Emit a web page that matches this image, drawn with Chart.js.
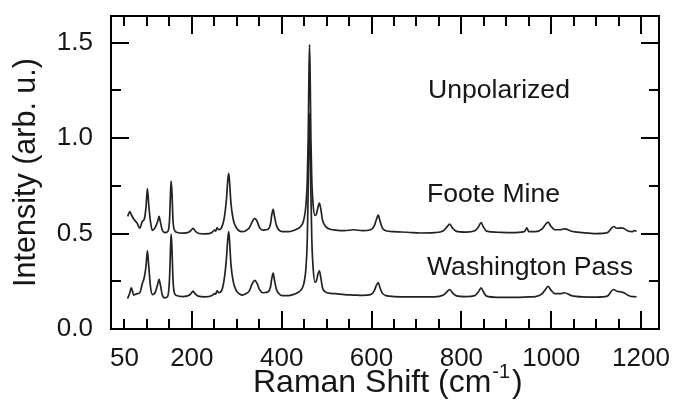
<!DOCTYPE html>
<html>
<head>
<meta charset="utf-8">
<script src="https://cdn.jsdelivr.net/npm/chart.js@4.4.1/dist/chart.umd.min.js"></script>
<style>
  html, body { margin: 0; padding: 0; background: #ffffff; }
  #wrap { width: 673px; height: 408px; }
</style>
</head>
<body>
<div id="wrap"><canvas id="c" width="673" height="408"></canvas></div>
<script>
// Raman shift (cm^-1) sampling points
const ramanShift = [57,62,65,71,78,84,90,94,98,101,104,108,112,118,124,127,130,134,140,146,150,153,154,156,158,161,166,180,195,200,203,207,214,230,245,250,253,256,260,266,272,277,280,282,284,287,292,298,305,312,320,328,334,340,345,351,358,365,370,375,378,381,384,388,394,402,415,425,435,443,449,454,457,459,460.5,462,463.5,465,467,470,474,477,481,484,487,491,497,505,520,540,560,580,598,606,611,615,619,624,632,650,680,710,740,760,768,774,780,788,810,830,838,844,849,856,880,910,940,946,950,965,980,988,993,999,1008,1020,1030,1045,1070,1100,1125,1133,1139,1146,1155,1162,1170,1180,1185,1190];

// Foote Mine intensities (arb. u.)
const footeMine = [0.59,0.615,0.60,0.575,0.555,0.528,0.565,0.575,0.64,0.735,0.65,0.56,0.517,0.53,0.565,0.59,0.56,0.52,0.505,0.51,0.56,0.74,0.775,0.70,0.57,0.52,0.507,0.502,0.51,0.522,0.528,0.515,0.502,0.498,0.506,0.518,0.513,0.53,0.52,0.53,0.58,0.68,0.78,0.815,0.77,0.66,0.575,0.535,0.515,0.51,0.515,0.53,0.56,0.58,0.565,0.53,0.518,0.52,0.523,0.55,0.60,0.627,0.59,0.545,0.518,0.51,0.51,0.515,0.525,0.54,0.57,0.65,0.78,1.0,1.3,1.49,1.3,1.0,0.78,0.65,0.595,0.60,0.64,0.66,0.63,0.57,0.54,0.525,0.518,0.515,0.52,0.515,0.52,0.54,0.575,0.597,0.565,0.53,0.515,0.51,0.507,0.503,0.505,0.515,0.535,0.55,0.53,0.513,0.508,0.515,0.535,0.558,0.535,0.513,0.507,0.505,0.51,0.53,0.51,0.51,0.525,0.55,0.56,0.54,0.52,0.52,0.525,0.512,0.505,0.50,0.505,0.525,0.537,0.528,0.53,0.527,0.515,0.51,0.515,0.512];

// Washington Pass intensities (arb. u.)
const washingtonPass = [0.16,0.19,0.215,0.178,0.185,0.19,0.24,0.27,0.33,0.41,0.33,0.22,0.18,0.19,0.235,0.26,0.23,0.18,0.163,0.17,0.25,0.45,0.497,0.40,0.26,0.19,0.175,0.17,0.178,0.192,0.198,0.185,0.172,0.168,0.175,0.185,0.183,0.20,0.19,0.20,0.26,0.37,0.47,0.51,0.46,0.34,0.25,0.205,0.185,0.178,0.185,0.20,0.235,0.255,0.24,0.205,0.19,0.192,0.195,0.22,0.265,0.293,0.255,0.21,0.185,0.175,0.175,0.18,0.19,0.205,0.235,0.32,0.47,0.72,0.98,1.13,0.98,0.72,0.47,0.32,0.245,0.25,0.29,0.305,0.27,0.215,0.195,0.188,0.185,0.18,0.178,0.176,0.18,0.20,0.23,0.243,0.215,0.188,0.175,0.17,0.168,0.168,0.168,0.178,0.195,0.207,0.19,0.175,0.17,0.175,0.195,0.215,0.195,0.172,0.166,0.166,0.167,0.168,0.168,0.17,0.185,0.21,0.224,0.205,0.185,0.185,0.19,0.175,0.168,0.167,0.172,0.195,0.207,0.198,0.195,0.19,0.178,0.17,0.17,0.168];

// Tick labels
const xTickLabels = [50, 200, 400, 600, 800, 1000, 1200];
const yTickLabels = [0.0, 0.5, 1.0, 1.5];
// Tick marks (major / minor)
const xMajorTicks = [200, 400, 600, 800, 1000, 1200];
const xMinorTicks = [50, 100, 150, 250, 300, 350, 450, 500, 550, 650, 700, 750, 850, 900, 950, 1050, 1100, 1150];
const yMajorTicks = [0.5, 1.0, 1.5];
const yMinorTicks = [0.25, 0.75, 1.25];

// Annotations
const sampleLabels = [
  { text: 'Unpolarized', x: 428, y: 98 },
  { text: 'Foote Mine', x: 427, y: 201.5 },
  { text: 'Washington Pass', x: 427, y: 275 }
];

const FONT = '"Liberation Sans", Arial, Helvetica, sans-serif';
const INK = '#161616';

const framePlugin = {
  id: 'framePlugin',
  afterDraw(chart) {
    const ctx = chart.ctx;
    const a = chart.chartArea;
    const xs = chart.scales.x, ys = chart.scales.y;
    ctx.save();
    ctx.strokeStyle = '#000';
    ctx.lineWidth = 2;
    ctx.strokeRect(a.left, a.top, a.right - a.left, a.bottom - a.top);
    const MAJ = 18, MIN = 10;
    ctx.beginPath();
    const vt = (v, len) => {
      const p = Math.round(xs.getPixelForValue(v));
      ctx.moveTo(p, a.bottom); ctx.lineTo(p, a.bottom - len);
      ctx.moveTo(p, a.top); ctx.lineTo(p, a.top + len);
    };
    const ht = (v, len) => {
      const p = Math.round(ys.getPixelForValue(v));
      ctx.moveTo(a.left, p); ctx.lineTo(a.left + len, p);
      ctx.moveTo(a.right, p); ctx.lineTo(a.right - len, p);
    };
    xMajorTicks.forEach(v => vt(v, MAJ));
    xMinorTicks.forEach(v => vt(v, MIN));
    yMajorTicks.forEach(v => ht(v, MAJ));
    yMinorTicks.forEach(v => ht(v, MIN));
    ctx.stroke();

    // sample annotations
    ctx.fillStyle = INK;
    ctx.font = '26.6px ' + FONT;
    ctx.textAlign = 'left';
    ctx.textBaseline = 'alphabetic';
    sampleLabels.forEach(l => ctx.fillText(l.text, l.x, l.y));

    // x axis title with superscript
    const main = 'Raman Shift (cm';
    const sup = '-1';
    const close = ')';
    ctx.font = '32px ' + FONT;
    const wMain = ctx.measureText(main).width;
    const x0 = 253;
    const base = 392;
    ctx.fillText(main, x0, base);
    ctx.font = '20px ' + FONT;
    const wSup = ctx.measureText(sup).width;
    ctx.fillText(sup, x0 + wMain + 1, base - 14);
    ctx.font = '32px ' + FONT;
    ctx.fillText(close, x0 + wMain + wSup + 3, base);

    // y axis title
    ctx.save();
    ctx.translate(35, (a.top + a.bottom) / 2);
    ctx.rotate(-Math.PI / 2);
    ctx.textAlign = 'center';
    ctx.font = '30.5px ' + FONT;
    ctx.fillText('Intensity (arb. u.)', 0, 0);
    ctx.restore();
    ctx.restore();
  }
};

const toPoints = vals => ramanShift.map((x, i) => ({ x: x, y: vals[i] }));

new Chart(document.getElementById('c'), {
  type: 'line',
  data: {
    datasets: [
      { label: 'Foote Mine', data: toPoints(footeMine), borderColor: '#222222', borderWidth: 1.7, pointRadius: 0, cubicInterpolationMode: 'monotone', fill: false },
      { label: 'Washington Pass', data: toPoints(washingtonPass), borderColor: '#222222', borderWidth: 1.7, pointRadius: 0, cubicInterpolationMode: 'monotone', fill: false }
    ]
  },
  options: {
    responsive: false,
    animation: false,
    devicePixelRatio: 1,
    layout: { padding: { top: 16, right: 14, left: 0, bottom: 0 } },
    plugins: { legend: { display: false }, tooltip: { enabled: false } },
    scales: {
      x: {
        type: 'linear',
        min: 20, max: 1240,
        grid: { display: false },
        border: { display: false },
        afterBuildTicks: s => { s.ticks = xTickLabels.map(v => ({ value: v })); },
        afterFit: s => { s.height = 79; s.paddingLeft = 0; s.paddingRight = 0; },
        ticks: {
          autoSkip: false, maxRotation: 0, padding: 6,
          color: INK,
          font: { family: FONT, size: 26 },
          callback: v => String(v)
        }
      },
      y: {
        type: 'linear',
        min: 0, max: 1.64,
        grid: { display: false },
        border: { display: false },
        afterBuildTicks: s => { s.ticks = yTickLabels.map(v => ({ value: v })); },
        afterFit: s => { s.width = 111; s.paddingTop = 0; s.paddingBottom = 0; },
        ticks: {
          padding: 10,
          color: INK,
          font: { family: FONT, size: 26 },
          callback: v => Number(v).toFixed(1)
        }
      }
    }
  },
  plugins: [framePlugin]
});
</script>
</body>
</html>
